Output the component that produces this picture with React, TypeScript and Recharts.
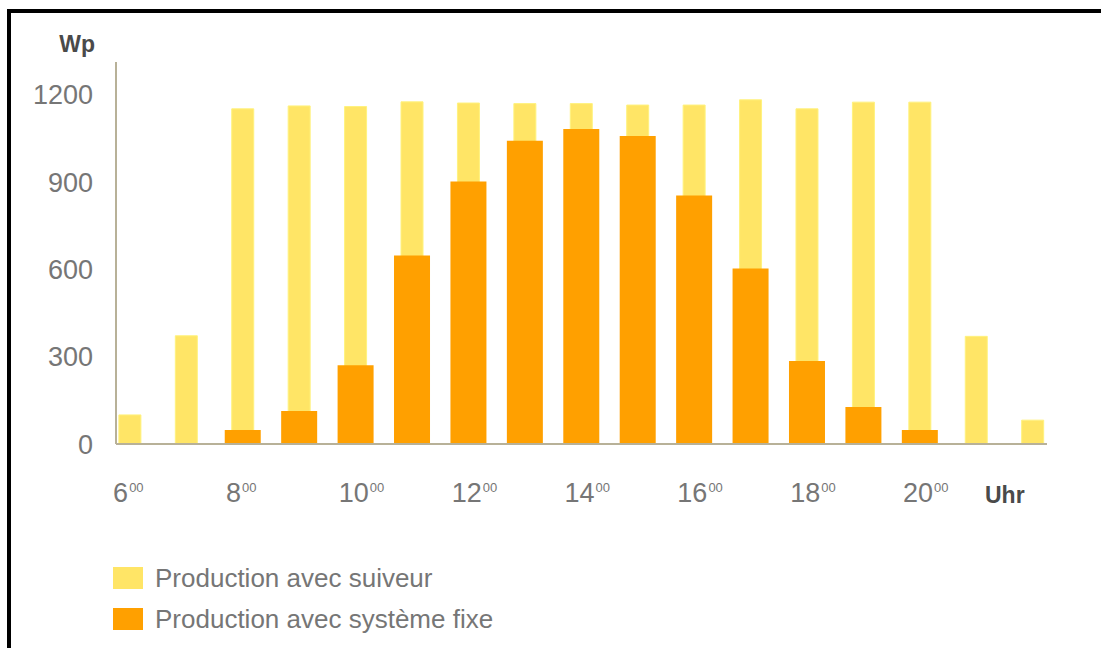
import React from "react";
import { BarChart, Bar, XAxis, YAxis } from "recharts";

// Hours of the day (x positions)
const hours = [6, 7, 8, 9, 10, 11, 12, 13, 14, 15, 16, 17, 18, 19, 20, 21, 22];
// Output with a sun tracker, Wp
const suiveur = [100, 372, 1152, 1162, 1160, 1176, 1172, 1170, 1170, 1165, 1165, 1183, 1152, 1175, 1175, 370, 82];
// Output with a fixed installation, Wp
const fixe = [0, 0, 48, 113, 271, 648, 902, 1042, 1083, 1059, 854, 603, 285, 127, 48, 0, 0];

const hourTicks = [6, 8, 10, 12, 14, 16, 18, 20];
const powerTicks = [0, 300, 600, 900, 1200];
const seriesNames = ["Production avec suiveur", "Production avec système fixe"];
const seriesColors = ["#FFE566", "#FFA000"];
const yUnit = "Wp";
const xUnit = "Uhr";

const data = hours.map((h, i) => ({ hour: h, suiveur: suiveur[i], fixe: fixe[i] }));

const FONT = "'Liberation Sans', Arial, sans-serif";
const TEXT = "#767676";
const DARK = "#4a4a4a";
const AXIS = "#b8b198";

const HourTick = (props: any) => {
  const { x, y, payload } = props;
  return (
    <text x={x - 17} y={y + 58} fontFamily={FONT} fontSize={27} fill={TEXT} textAnchor="start">
      <tspan>{payload.value}</tspan>
      <tspan fontSize={13} dx={1} dy={-10}>00</tspan>
    </text>
  );
};

const UnitX = (props: any) => {
  const vb = props.viewBox || {};
  return (
    <text x={vb.x + vb.width - 62} y={vb.y + 59} fontFamily={FONT} fontSize={23} fontWeight="bold" fill={DARK}>
      {xUnit}
    </text>
  );
};

const UnitY = (props: any) => {
  const vb = props.viewBox || {};
  return (
    <text x={vb.x + vb.width - 21} y={vb.y - 10} fontFamily={FONT} fontSize={23} fontWeight="bold" fill={DARK} textAnchor="end">
      {yUnit}
    </text>
  );
};

export default function App() {
  return (
    <div style={{ position: "relative", width: 1101, height: 648, overflow: "hidden", background: "#fff" }}>
      <style>{"body{margin:0}"}</style>
      <div
        style={{
          position: "absolute",
          left: 7,
          top: 9,
          right: -10,
          bottom: -10,
          borderTop: "4px solid #000",
          borderLeft: "4px solid #000",
        }}
      />
      <div style={{ position: "absolute", left: 0, top: 0 }}>
        <BarChart width={1101} height={648} data={data} margin={{ top: 62, right: 54, left: 0, bottom: 174 }}>
          <XAxis
            xAxisId="back"
            dataKey="hour"
            type="number"
            domain={[5.75, 22.25]}
            ticks={hourTicks}
            interval={0}
            height={30}
            tickSize={0}
            tickMargin={0}
            tickLine={false}
            axisLine={{ stroke: AXIS, strokeWidth: 2 }}
            tick={<HourTick />}
            label={<UnitX />}
          />
          <XAxis xAxisId="front" dataKey="hour" type="number" domain={[5.75, 22.25]} hide />
          <YAxis
            type="number"
            domain={[0, 1313]}
            ticks={powerTicks}
            interval={0}
            width={116}
            tickSize={0}
            tickMargin={23}
            tickLine={false}
            axisLine={{ stroke: AXIS, strokeWidth: 2 }}
            tick={{ fontSize: 27, fill: TEXT, fontFamily: FONT }}
            label={<UnitY />}
          />
          <Bar
            xAxisId="back"
            dataKey="suiveur"
            name={seriesNames[0]}
            fill={seriesColors[0]}
            stroke="#FFF27E"
            strokeWidth={1}
            barSize={22}
            isAnimationActive={false}
          />
          <Bar
            xAxisId="front"
            dataKey="fixe"
            name={seriesNames[1]}
            fill={seriesColors[1]}
            barSize={36}
            isAnimationActive={false}
          />
        </BarChart>
      </div>
      {seriesNames.map((name, i) => (
        <div
          key={name}
          style={{
            position: "absolute",
            left: 113,
            top: 567 + i * 41,
            height: 22,
            display: "flex",
            alignItems: "center",
            fontFamily: FONT,
            fontSize: 26,
            color: TEXT,
            whiteSpace: "nowrap",
          }}
        >
          <span style={{ display: "inline-block", width: 30, height: 22, background: seriesColors[i], marginRight: 12 }} />
          <span>{name}</span>
        </div>
      ))}
    </div>
  );
}
